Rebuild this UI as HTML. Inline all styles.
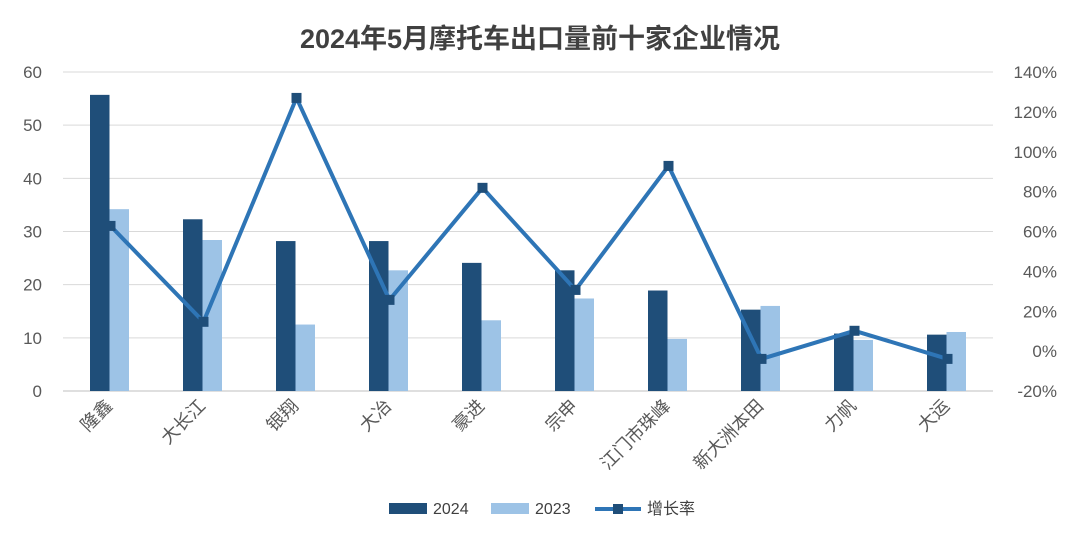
<!DOCTYPE html>
<html><head><meta charset="utf-8"><style>
body{margin:0;background:#fff;font-family:"Liberation Sans","Noto Sans CJK SC",sans-serif}
svg text{font-family:"Liberation Sans","Noto Sans CJK SC",sans-serif}
</style></head><body>
<svg id="c" width="1080" height="540">
<text x="540" y="48" text-anchor="middle" font-size="27" font-weight="bold" fill="#404040">2024年5月摩托车出口量前十家企业情况</text>
<g id="grid"></g><g id="bars"></g><g id="line"></g><g id="axes"></g>
<g>
<rect x="389" y="503" width="38" height="11" fill="#1f4e79"/>
<text x="433" y="514" font-size="16" fill="#404040">2024</text>
<rect x="491" y="503" width="38" height="11" fill="#9dc3e6"/>
<text x="535" y="514" font-size="16" fill="#404040">2023</text>
<line x1="595" y1="509" x2="641" y2="509" stroke="#2e75b6" stroke-width="4"/>
<rect x="613" y="504" width="10" height="10" fill="#1f4e79"/>
<text x="647" y="514" font-size="16" fill="#404040">增长率</text>
</g>
</svg>
<script>
const categories=["隆鑫","大长江","银翔","大冶","豪进","宗申","江门市珠峰","新大洲本田","力帆","大运"];
const v2024=[55.7,32.3,28.2,28.2,24.1,22.7,18.9,15.3,10.8,10.6];
const v2023=[34.2,28.4,12.5,22.7,13.3,17.4,9.8,16.0,9.6,11.1];
const growth=[62.8,14.7,127,25.7,81.9,30.7,92.9,-3.9,10.2,-3.9];
const leftTicks=[0,10,20,30,40,50,60];
const rightTicks=[-20,0,20,40,60,80,100,120,140];
const NS="http://www.w3.org/2000/svg";
const X0=63,X1=993,Y0=391,Y1=72;
const yL=v=>Y0-(v/60)*(Y0-Y1);
const yR=v=>Y0-((v+20)/160)*(Y0-Y1);
const band=(X1-X0)/categories.length;
const xC=i=>X0+band*(i+0.5);
function mk(p,t,a){const e=document.createElementNS(NS,t);for(const k in a)e.setAttribute(k,a[k]);document.getElementById(p).appendChild(e);return e;}
leftTicks.forEach(t=>{
 const l=mk('grid','line',{x1:X0,x2:X1,y1:yL(t),y2:yL(t),stroke:t===0?'#bfbfbf':'#d9d9d9','stroke-width':1});
 
 
 const tx=mk('axes','text',{x:42,y:yL(t)+6,'text-anchor':'end','font-size':17,fill:'#595959'});tx.textContent=t;
 
 
});
rightTicks.forEach(t=>{
 const tx=mk('axes','text',{x:1057,y:yR(t)+6,'text-anchor':'end','font-size':17,fill:'#595959'});tx.textContent=t+'%';
 
 
});
categories.forEach((c,i)=>{
 const bw=19.5;
 const b1=mk('bars','rect',{x:xC(i)-bw,y:yL(v2024[i]),width:bw,height:Y0-yL(v2024[i]),fill:'#1f4e79'});
 
 
 const b2=mk('bars','rect',{x:xC(i),y:yL(v2023[i]),width:bw,height:Y0-yL(v2023[i]),fill:'#9dc3e6'});
 
 
 const x=xC(i)+4,y=407;
 const tx=mk('axes','text',{x:x,y:y,'text-anchor':'end','font-size':18,fill:'#595959',transform:`rotate(-45 ${x} ${y})`});tx.textContent=c;
 
 
});
const pts=growth.map((g,i)=>[xC(i)+1,yR(g)]);
const pl=mk('line','polyline',{points:pts.map(p=>p.join(',')).join(' '),fill:'none',stroke:'#2e75b6','stroke-width':4,'stroke-linejoin':'round'});


pts.forEach(p=>{
 const m=mk('line','rect',{x:p[0]-5,y:p[1]-5,width:10,height:10,fill:'#1f4e79'});
 
 
});
</script>
</body></html>
